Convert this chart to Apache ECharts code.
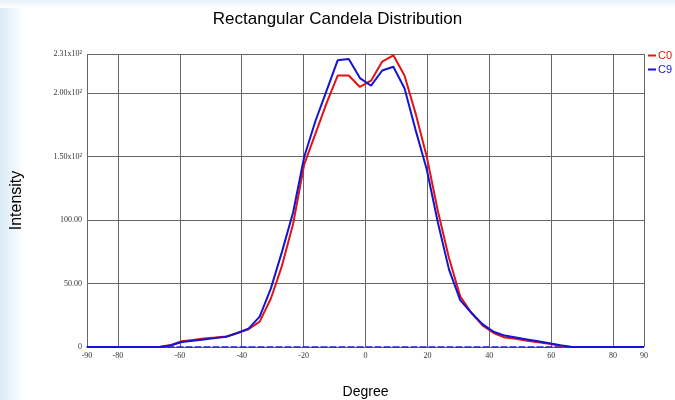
<!DOCTYPE html>
<html>
<head>
<meta charset="utf-8">
<title>Rectangular Candela Distribution</title>
<script src="https://cdn.jsdelivr.net/npm/echarts@6/dist/echarts.min.js"></script>
<style>
  html, body { margin: 0; padding: 0; background: #fff; }
  #chart { width: 675px; height: 400px; }
</style>
</head>
<body>
<div id="chart"></div>
<script>
// angles (deg) where the curves were sampled
var degrees = [-90, -66.6, -63.0, -59.4, -55.8, -52.2, -48.6, -45.0, -41.4, -37.8,
  -34.2, -30.6, -27.0, -23.4, -19.8, -16.2, -12.6, -9.0, -5.4, -1.8,
  1.8, 5.4, 9.0, 12.6, 16.2, 19.8, 23.4, 27.0, 30.6, 34.2,
  37.8, 41.4, 45.0, 48.6, 52.2, 55.8, 59.4, 63.0, 66.6, 90]
var c0 = [0, 0, 1.5, 4.5, 5.5, 6.8, 7.5, 8.3, 11, 14,
  20, 38, 64, 97, 144, 168, 192, 214, 214, 205,
  210, 225, 230, 214, 184, 150, 107, 70, 40, 27,
  17, 11, 7.5, 6.5, 5, 3.8, 2.5, 1, 0, 0]
var c9 = [0, 0, 1.2, 4, 5, 6, 7, 8, 11, 14.5,
  24, 46, 75, 106, 150, 178, 202, 226, 227, 212,
  206, 218, 221, 204, 171, 140, 98, 61, 37, 27,
  18, 12, 9, 7.5, 6, 4.5, 3, 1.3, 0, 0]
var xTicks = [-90, -80, -60, -40, -20, 0, 20, 40, 60, 80, 90]
var yMax = 231

function pairs(vals) {
  return degrees.map(function (d, i) { return [d, vals[i]] })
}

function yLabel(v) {
  if (v === 0) return '0'
  if (v < 150) return v.toFixed(2)
  return (v / 100).toFixed(2) + 'x10²'
}

var chart = echarts.init(document.getElementById('chart'))
chart.setOption({
  animation: false,
  backgroundColor: '#fff',
  graphic: [
    {
      type: 'rect', z: -10, silent: true,
      shape: { x: 0, y: 0, width: 24, height: 400 },
      style: { fill: new echarts.graphic.LinearGradient(0, 0, 1, 0, [
        { offset: 0, color: '#d9ebf7' }, { offset: 1, color: '#ffffff' }]) }
    },
    {
      type: 'rect', z: -10, silent: true,
      shape: { x: 0, y: 0, width: 675, height: 8 },
      style: { fill: new echarts.graphic.LinearGradient(0, 0, 0, 1, [
        { offset: 0, color: '#e4f1fa' }, { offset: 1, color: '#ffffff' }]) }
    }
  ],
  title: {
    text: 'Rectangular Candela Distribution',
    left: 'center',
    top: 6,
    textStyle: { fontFamily: 'Liberation Sans', fontSize: 17, fontWeight: 'normal', color: '#000' }
  },
  legend: {
    orient: 'vertical',
    left: 648,
    top: 50,
    padding: 0,
    itemGap: 3,
    itemWidth: 8,
    itemHeight: 2,
    icon: 'rect',
    textStyle: { fontFamily: 'Liberation Sans', fontSize: 11, padding: [0, 0, 0, -3] },
    data: [
      { name: 'C0', textStyle: { color: '#e01414' } },
      { name: 'C9', textStyle: { color: '#1414d2' } }
    ]
  },
  grid: { left: 87, right: 31, top: 54, bottom: 53, outerBoundsMode: 'none' },
  xAxis: {
    type: 'value',
    min: -90,
    max: 90,
    name: 'Degree',
    nameLocation: 'middle',
    nameGap: 38,
    nameTextStyle: { fontFamily: 'Liberation Sans', fontSize: 14, color: '#000' },
    axisLine: { lineStyle: { color: '#2020d0', type: 'dashed', width: 1.5 } },
    axisTick: { show: false, customValues: xTicks },
    axisLabel: {
      customValues: xTicks,
      fontFamily: 'Liberation Serif', fontSize: 8, color: '#333', margin: 5
    },
    splitLine: { show: true, lineStyle: { color: '#666', width: 1 } }
  },
  yAxis: {
    type: 'value',
    min: 0,
    max: yMax,
    interval: 50,
    name: 'Intensity',
    nameLocation: 'middle',
    nameGap: 62,
    nameRotate: 90,
    nameTextStyle: { fontFamily: 'Liberation Sans', fontSize: 16, color: '#000' },
    axisLine: { show: true, lineStyle: { color: '#666', width: 1 } },
    axisTick: { show: false },
    axisLabel: {
      formatter: yLabel,
      fontFamily: 'Liberation Serif', fontSize: 8, color: '#333', margin: 5
    },
    splitLine: { show: true, lineStyle: { color: '#666', width: 1 } }
  },
  series: [
    {
      name: 'C0', type: 'line', showSymbol: false,
      color: '#e01414',
      lineStyle: { width: 2, color: '#e01414' },
      data: pairs(c0)
    },
    {
      name: 'C9', type: 'line', showSymbol: false,
      color: '#1414d2',
      lineStyle: { width: 2, color: '#1414d2' },
      data: pairs(c9)
    }
  ]
})
</script>
</body>
</html>
